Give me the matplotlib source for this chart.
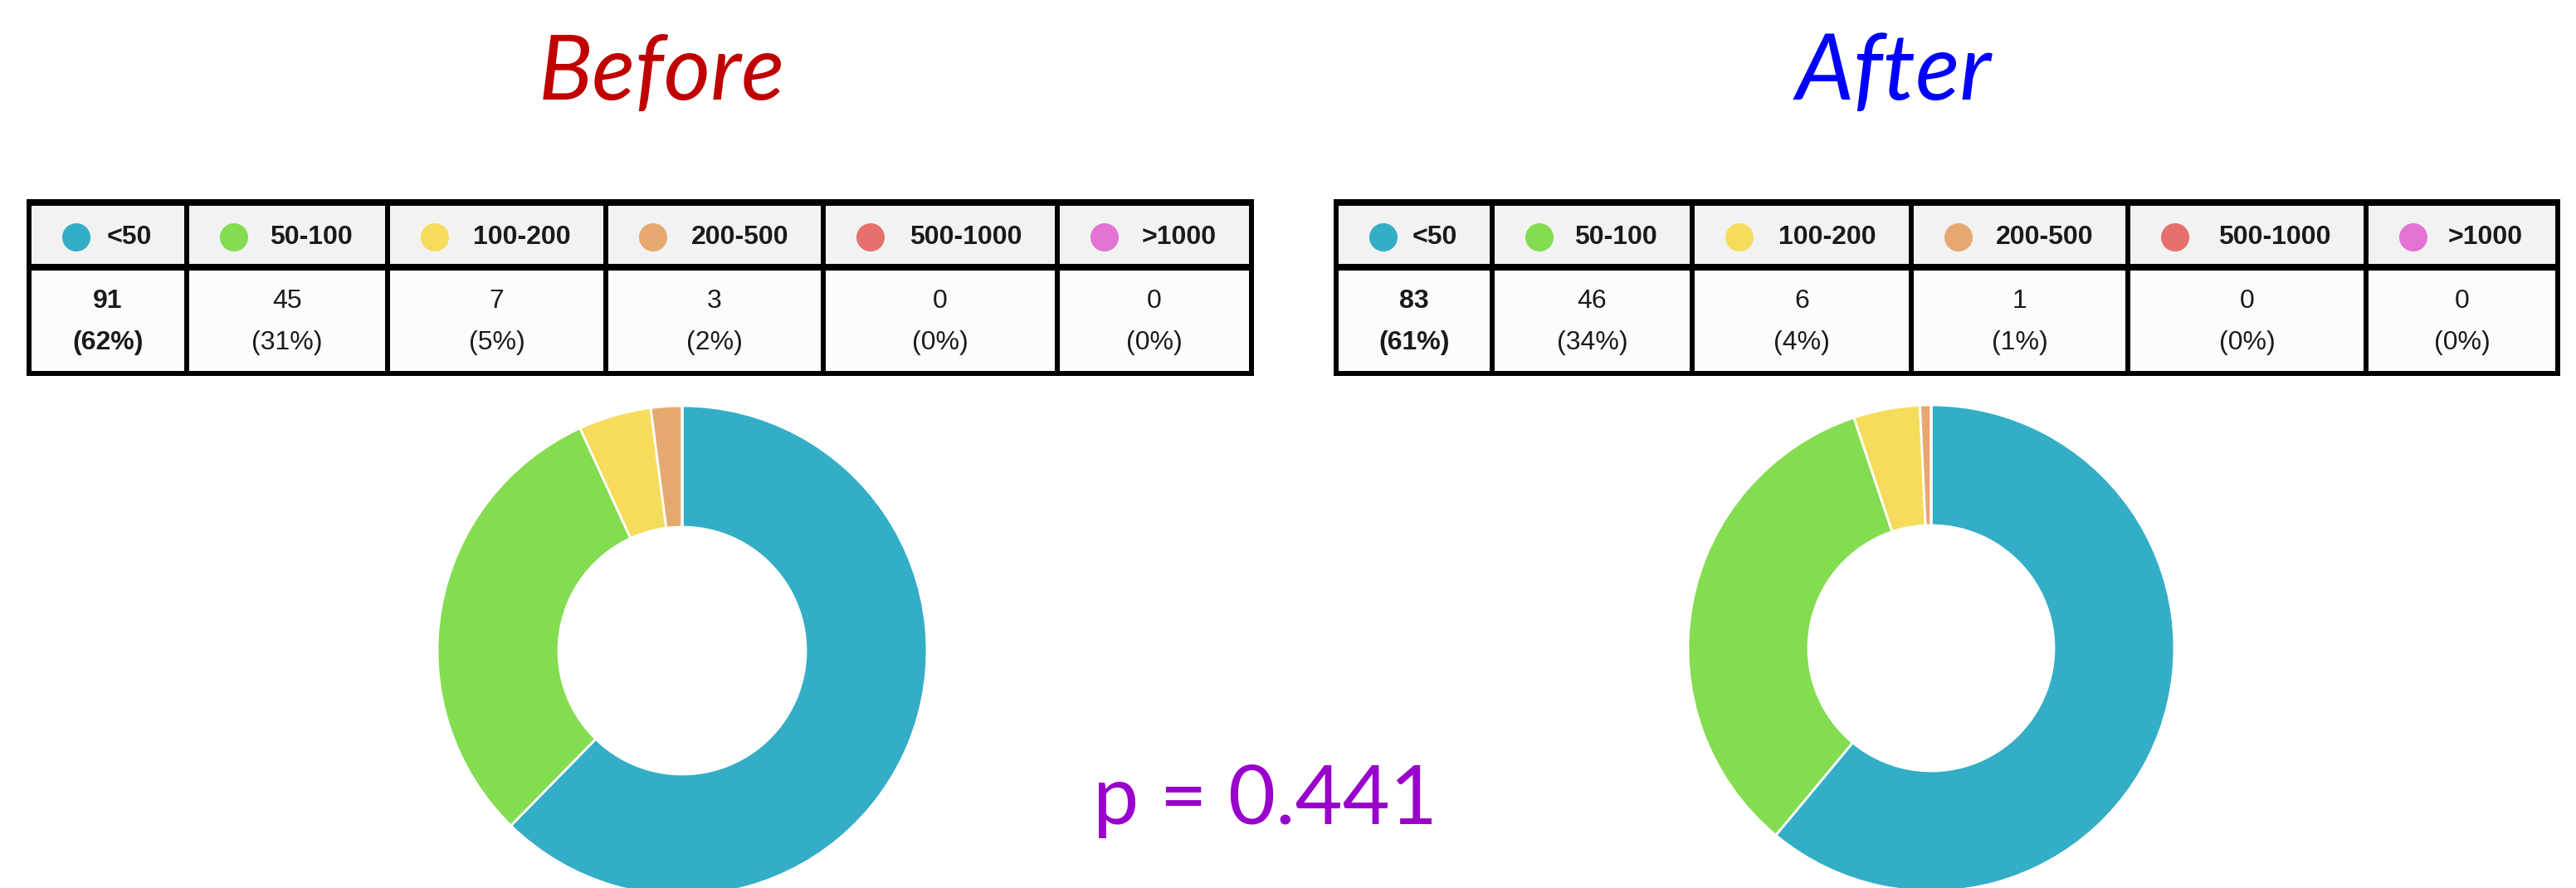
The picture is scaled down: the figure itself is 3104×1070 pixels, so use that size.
import matplotlib.pyplot as plt
from matplotlib.patches import Rectangle, Circle
from matplotlib import font_manager

W, H = 3104, 1070

categories = ['<50', '50-100', '100-200', '200-500', '500-1000', '>1000']
colors = ['#33AEC6', '#84DD50', '#F6DC5C', '#E5A96F', '#E6706D', '#E273D3']
before_counts = [91, 45, 7, 3, 0, 0]
before_pcts = ['62%', '31%', '5%', '2%', '0%', '0%']
after_counts = [83, 46, 6, 1, 0, 0]
after_pcts = ['61%', '34%', '4%', '1%', '0%', '0%']
p_value = 0.441

# layout in pixels (y measured from top)
left_edges = [35, 225, 467, 730, 992, 1274, 1508]
right_edges = [1610, 1798, 2039, 2303, 2564, 2851, 3082]

names = {f.name for f in font_manager.fontManager.ttflist}
if 'Liberation Sans Narrow' in names:
    table_font, table_size = 'Liberation Sans Narrow', 25
else:
    table_font, table_size = 'Liberation Sans', 23

fig = plt.figure(figsize=(W / 100, H / 100), dpi=100)
fig.patch.set_facecolor('white')
ax = fig.add_axes([0, 0, 1, 1])
ax.set_xlim(0, W)
ax.set_ylim(H, 0)
ax.axis('off')


def draw_table(edges, counts, pcts):
    x0, x1 = edges[0], edges[-1]
    # backgrounds
    ax.add_patch(Rectangle((x0, 247), x1 - x0, 71, facecolor='#F2F2F2', edgecolor='none'))
    ax.add_patch(Rectangle((x0, 326), x1 - x0, 122, facecolor='#FCFCFC', edgecolor='none'))
    # thick horizontal rules
    ax.add_patch(Rectangle((x0 - 3, 240), x1 - x0 + 6, 8, facecolor='black', edgecolor='none'))
    ax.add_patch(Rectangle((x0 - 3, 318), x1 - x0 + 6, 8, facecolor='black', edgecolor='none'))
    ax.add_patch(Rectangle((x0 - 3, 447), x1 - x0 + 6, 6, facecolor='black', edgecolor='none'))
    # vertical rules
    for e in edges:
        ax.add_patch(Rectangle((e - 3, 240), 6, 213, facecolor='black', edgecolor='none'))
    for i, cat in enumerate(categories):
        l, r = edges[i], edges[i + 1]
        ax.add_patch(Circle((l + 57, 286), 17, facecolor=colors[i], edgecolor='none'))
        ax.text(r - 42, 294, cat, ha='right', va='baseline', fontsize=table_size,
                fontweight='bold', family=table_font, color='#1a1a1a')
        cx = (l + r) / 2
        wt = 'bold' if i == 0 else 'normal'
        ax.text(cx, 371, str(counts[i]), ha='center', va='baseline', fontsize=table_size,
                fontweight=wt, family=table_font, color='#1a1a1a')
        ax.text(cx, 421, '(' + pcts[i] + ')', ha='center', va='baseline', fontsize=table_size,
                fontweight=wt, family=table_font, color='#1a1a1a')


draw_table(left_edges, before_counts, before_pcts)
draw_table(right_edges, after_counts, after_pcts)

# titles
ax.text(797, 120, 'Before', ha='center', va='baseline', fontsize=78, style='italic',
        family='Lato', color='#C00000')
ax.text(2282, 120, 'After', ha='center', va='baseline', fontsize=80, style='italic',
        family='Lato', color='#0000FF')
ax.text(1317, 993, 'p = %.3f' % p_value, ha='left', va='baseline', fontsize=71,
        family='Lato', color='#9900CC')


def donut(cx, cy, r, counts):
    pax = fig.add_axes([(cx - r) / W, (H - cy - r) / H, 2 * r / W, 2 * r / H])
    pax.pie(counts, colors=colors, startangle=90, counterclock=False,
            wedgeprops=dict(width=0.495, edgecolor='white', linewidth=2))
    pax.set_xlim(-1, 1)
    pax.set_ylim(-1, 1)
    pax.set_aspect('equal')
    pax.axis('off')


donut(822, 784, 295, before_counts)
donut(2327, 781, 293, after_counts)

fig.savefig('out.png', dpi=100, facecolor='white')
